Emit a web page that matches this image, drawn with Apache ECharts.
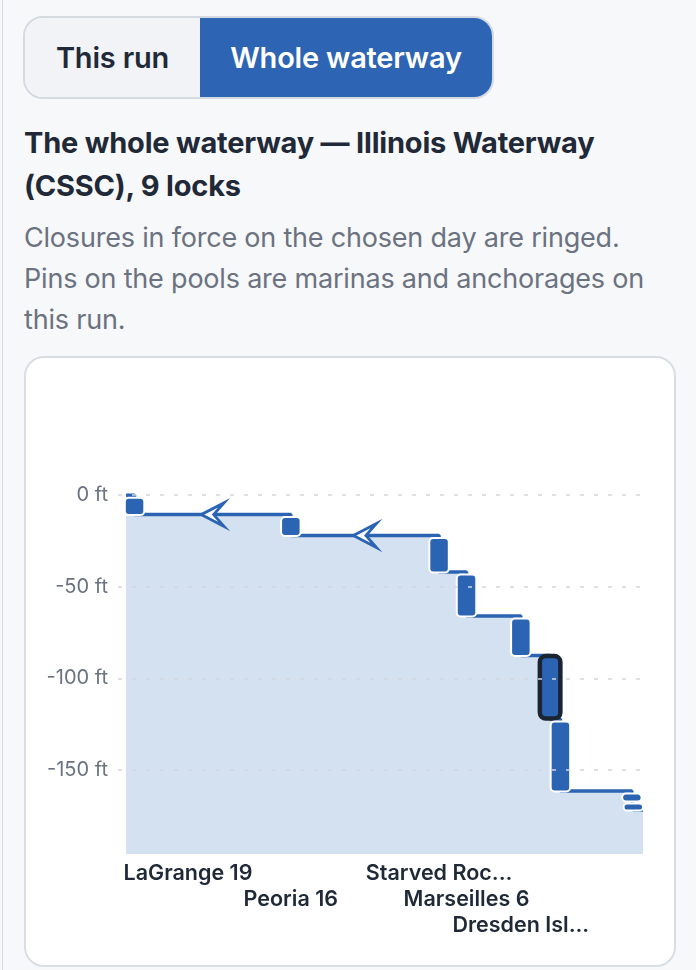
<!DOCTYPE html>
<html>
<head>
<meta charset="utf-8">
<script src="https://cdn.jsdelivr.net/npm/echarts@6/dist/echarts.min.js"></script>
<style>
  html, body { margin: 0; padding: 0; }
  body { width: 696px; height: 970px; background: #f7f8fa; position: relative; overflow: hidden; font-family: Inter, "Noto Sans", sans-serif; }
  .edge { position: absolute; left: 2px; top: 0; width: 1px; height: 970px; background: #d7dbe1; }
  .toggle { position: absolute; left: 23px; top: 16px; width: 471px; height: 83px; box-sizing: border-box; border: 2px solid #d5dae1; border-radius: 20px; overflow: hidden; display: flex; }
  .toggle div { display: flex; align-items: center; justify-content: center; font-size: 29px; font-weight: 600; letter-spacing: -0.2px; }
  .t1 { width: 175px; background: #f1f3f6; color: #1f2937; }
  .t2 { flex: 1; background: #2d64b4; color: #ffffff; }
  .title { position: absolute; left: 24px; top: 121px; width: 652px; font-size: 29px; font-weight: 700; line-height: 43px; color: #1f2937; letter-spacing: -0.2px; }
  .sub { position: absolute; left: 24px; top: 217px; width: 652px; font-size: 27px; font-weight: 400; line-height: 41px; color: #6b7280; letter-spacing: -0.2px; }
  .card { position: absolute; left: 24px; top: 356px; width: 652px; height: 611px; box-sizing: border-box; border: 2px solid #d9dee5; border-radius: 20px; background: #ffffff; overflow: hidden; }
  #chart { position: absolute; left: 0; top: 0; width: 648px; height: 607px; }
</style>
</head>
<body>
<div class="edge"></div>
<div class="toggle"><div class="t1">This run</div><div class="t2">Whole waterway</div></div>
<div class="title">The whole waterway — Illinois Waterway (CSSC), 9 locks</div>
<div class="sub">Closures in force on the chosen day are ringed. Pins on the pools are marinas and anchorages on this run.</div>
<div class="card"><div id="chart"></div></div>
<script>
// ---- data ----
const lockNames = ['LaGrange', 'Peoria', 'Starved Rock', 'Marseilles', 'Dresden Island', 'Brandon Road', 'Lockport', 'T.J. O\'Brien', 'Chicago Harbor'];
const lockMiles = [80.2, 157.6, 231.0, 244.6, 271.5, 286.0, 291.1, 326.5, 327.2];
// pool levels (ft): level before lock i is poolLevels[i], after is poolLevels[i+1]
const poolLevels = [0, -10.6, -22.0, -42.0, -66.0, -87.6, -122.3, -161.6, -167.0, -172.0];
const lockClosed = [false, false, false, false, false, true, false, false, false];
const axisLabels = ['LaGrange 19', 'Peoria 16', 'Starved Roc...', 'Marseilles 6', 'Dresden Isl...', null, null, null, null];
const profileStartMile = 76;
const profileEndMile = 332;
const arrowPools = [1, 2];           // pools (index into poolLevels) that carry a flow arrow
const yTicks = [0, -50, -100, -150];
const xMin = 72, xMax = 332, yMin = -196, yMax = 40;

// ---- layout (not data) ----
const labelRows = [0, 1, 0, 1, 2, 0, 0, 0, 0];

// ---- build ----
const profile = [[profileStartMile, poolLevels[0]]];
lockMiles.forEach((m, i) => profile.push([m, poolLevels[i + 1]]));
profile.push([profileEndMile, poolLevels[poolLevels.length - 1]]);

const lockData = lockMiles.map((m, i) => [m, poolLevels[i], poolLevels[i + 1], lockClosed[i] ? 1 : 0]);

const arrowData = arrowPools.map(p => [(lockMiles[p - 1] + lockMiles[p]) / 2, poolLevels[p]]);

const labelData = [];
axisLabels.forEach((t, i) => {
  if (t) labelData.push({ value: [lockMiles[i], yMin, labelRows[i], i === 0 ? 1 : 0], name: t });
});

const BLUE = '#2c64b4';
const chart = echarts.init(document.getElementById('chart'), null, { renderer: 'canvas' });
chart.setOption({
  animation: false,
  grid: { left: 92, right: 31, top: 64, bottom: 111 },
  xAxis: {
    type: 'value', min: xMin, max: xMax,
    axisLine: { show: false }, axisTick: { show: false }, axisLabel: { show: false }, splitLine: { show: false }
  },
  yAxis: {
    type: 'value', min: yMin, max: yMax, z: 10,
    axisLine: { show: false },
    axisTick: { show: false, customValues: yTicks },
    axisLabel: {
      customValues: yTicks,
      formatter: v => v + ' ft',
      color: '#6b7280', fontSize: 20, fontFamily: 'Inter', margin: 10
    },
    splitLine: { show: true, lineStyle: { color: '#d1d6dd', width: 1.5, type: [4, 10] } }
  },
  series: [
    {
      type: 'line', data: profile, step: 'end', symbol: 'none', z: 2,
      lineStyle: { color: BLUE, width: 3.5 },
      areaStyle: { color: '#d4e1f1', opacity: 1, origin: 'start' }
    },
    {
      type: 'scatter', data: arrowData, z: 3,
      symbol: 'path://M0,12 L24,0 L13,12 L24,24 Z',
      symbolSize: [23, 24],
      itemStyle: { color: '#ffffff', borderColor: BLUE, borderWidth: 2.8, opacity: 1 }
    },
    {
      type: 'custom', data: lockData, z: 4,
      renderItem: function (params, api) {
        const m = api.value(0), up = api.value(1), lo = api.value(2), closed = api.value(3);
        const p1 = api.coord([m, up]);
        const p2 = api.coord([m, lo]);
        const w = closed ? 20.5 : 19.5;
        const y1 = closed ? p1[1] + 0.5 : p1[1] + 2.5;
        const y2 = closed ? p2[1] - 0.5 : p2[1] + 0.5;
        const h = Math.max(y2 - y1, 5);
        return {
          type: 'rect',
          shape: { x: p1[0] - w / 2, y: y1, width: w, height: h, r: closed ? 6 : 4 },
          style: { fill: BLUE, stroke: closed ? '#1b2433' : '#ffffff', lineWidth: closed ? 4.5 : 2 }
        };
      }
    },
    {
      type: 'custom', data: labelData, z: 5,
      renderItem: function (params, api) {
        const p = api.coord([api.value(0), api.value(1)]);
        const row = api.value(2), left = api.value(3);
        return {
          type: 'text',
          x: left ? p[0] - 11 : p[0],
          y: p[1] + 19.5 + row * 26,
          style: {
            text: labelData[params.dataIndex].name,
            fill: '#1f2937', font: '600 21.5px Inter',
            align: left ? 'left' : 'center', verticalAlign: 'middle'
          }
        };
      }
    }
  ]
});
</script>
</body>
</html>
